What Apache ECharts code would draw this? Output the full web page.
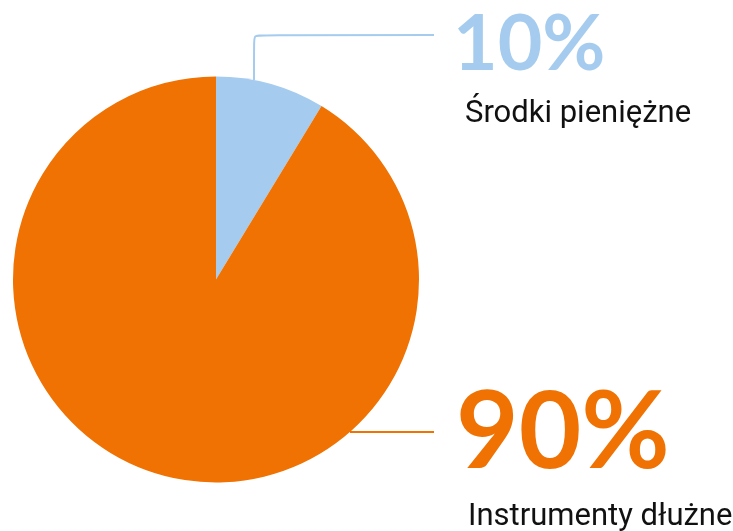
<!DOCTYPE html>
<html>
<head>
<meta charset="utf-8">
<script src="https://cdn.jsdelivr.net/npm/echarts@6/dist/echarts.min.js"></script>
<style>html,body{margin:0;padding:0;background:#fff}#c{width:733px;height:531px}</style>
</head>
<body>
<div id="c"></div>
<script>
var categories = ['Środki pieniężne', 'Instrumenty dłużne'];
var values = [8.7, 91.3];
var percentLabels = ['10%', '90%'];
var colors = ['#A5CCEE', '#EF7203'];

var chart = echarts.init(document.getElementById('c'));
var cx = 216, cy = 279.5, R = 203;

function edgeAtX(x) { return cy - Math.sqrt(R * R - (x - cx) * (x - cx)); }
function edgeAtY(y) { return cx + Math.sqrt(R * R - (y - cy) * (y - cy)); }

var layouts = [
  function () {
    var lx = 254;
    return { x: 453, y: 7, align: 'left', verticalAlign: 'top',
      labelLinePoints: [[lx, edgeAtX(lx)], [lx, 35], [434, 35]] };
  },
  function () {
    var ly = 432;
    return { x: 456, y: 379, align: 'left', verticalAlign: 'top',
      labelLinePoints: [[edgeAtY(ly), ly], [434, ly], [434, ly]] };
  }
];

var data = categories.map(function (c, i) {
  var big = i === 1;
  return {
    name: c,
    value: values[i],
    itemStyle: { color: colors[i] },
    label: {
      formatter: '{pct|' + percentLabels[i] + '}\n{name|' + c + '}',
      rich: {
        pct: { fontFamily: 'Lato', fontWeight: 'bold', fontSize: big ? 108 : 77,
               lineHeight: big ? 108 : 77, color: colors[i] },
        name: { fontFamily: 'Roboto', fontSize: 31, lineHeight: big ? 61 : 61,
                color: '#111', padding: [0, 0, 0, 12] }
      }
    },
    labelLine: { lineStyle: { color: colors[i], width: 2 }, smooth: i === 0 ? 0.06 : false }
  };
});

chart.setOption({
  animation: false,
  series: [{
    type: 'pie',
    center: [cx, cy],
    radius: R,
    startAngle: 90,
    clockwise: true,
    avoidLabelOverlap: false,
    emphasis: { disabled: true },
    label: { show: true, position: 'outside' },
    labelLine: { show: true },
    labelLayout: function (p) { return layouts[p.dataIndex](); },
    data: data
  }]
});
</script>
</body>
</html>
